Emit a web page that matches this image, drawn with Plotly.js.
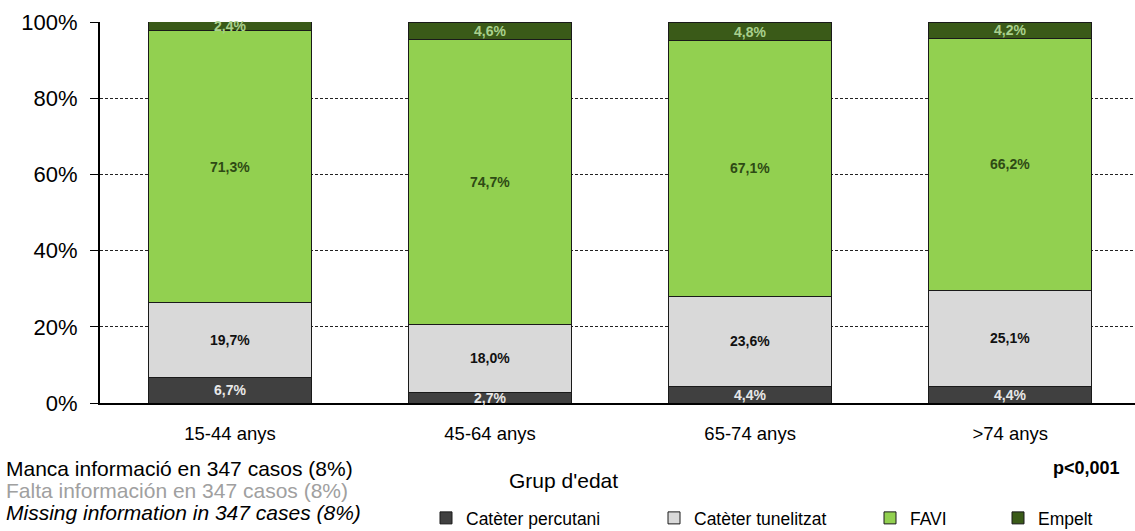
<!DOCTYPE html>
<html>
<head>
<meta charset="utf-8">
<script src="https://cdn.plot.ly/plotly-3.0.1.min.js"></script>
<style>html,body{margin:0;padding:0;background:#fff;}#chart{width:1135px;height:531px;}</style>
</head>
<body>
<div id="chart"></div>
<script>
const categories = ['15-44 anys', '45-64 anys', '65-74 anys', '>74 anys'];
const seriesNames = ['Catèter percutani', 'Catèter tunelitzat', 'FAVI', 'Empelt'];
const percutani = [6.7, 2.7, 4.4, 4.4];
const tunelitzat = [19.7, 18.0, 23.6, 25.1];
const favi = [71.3, 74.7, 67.1, 66.2];
const empelt = [2.4, 4.6, 4.8, 4.2];
const yTicks = [0, 20, 40, 60, 80, 100];
const yTickLabels = ['0%', '20%', '40%', '60%', '80%', '100%'];

const seriesValues = [percutani, tunelitzat, favi, empelt];
const fillColors = ['#404040', '#d9d9d9', '#92d050', '#3a5a18'];
const labelColors = ['#e8e8e8', '#111111', '#2e4a14', '#a9d18e'];
const FONT = 'Liberation Sans, Arial, sans-serif';

// plot area geometry (pixels)
const W = 1135, H = 531;
const M = {l: 100, r: 0, t: 22, b: 128, autoexpand: false};
const PW = W - M.l - M.r, PH = H - M.t - M.b;
const px = x => (x - M.l) / PW;
const py = y => (H - M.b - y) / PH;

const legendX = [466, 694, 910, 1038];
const traces = seriesValues.map((vals, i) => ({
  type: 'bar',
  name: seriesNames[i],
  x: categories,
  y: vals,
  width: 0.627,
  marker: {color: fillColors[i], line: {color: '#1a1a1a', width: 1}},
  hoverinfo: 'skip',
  legend: i === 0 ? 'legend' : 'legend' + (i + 1)
}));

const annotations = [];
categories.forEach((c, j) => {
  let base = 0;
  seriesValues.forEach((vals, i) => {
    const v = vals[j];
    annotations.push({
      x: c, y: base + v / 2, xref: 'x', yref: 'y',
      text: '<b>' + v.toFixed(1).replace('.', ',') + '%</b>',
      showarrow: false,
      font: {family: FONT, size: 14, color: labelColors[i]}
    });
    base += v;
  });
});

annotations.push(
  {xref: 'paper', yref: 'paper', x: px(4), y: py(469), xanchor: 'left', yanchor: 'middle', showarrow: false,
   text: 'Manca informació en 347 casos (8%)', font: {family: FONT, size: 21, color: '#000'}},
  {xref: 'paper', yref: 'paper', x: px(4), y: py(491), xanchor: 'left', yanchor: 'middle', showarrow: false,
   text: 'Falta información en 347 casos (8%)', font: {family: FONT, size: 21, color: '#a0a0a0'}},
  {xref: 'paper', yref: 'paper', x: px(4), y: py(512), xanchor: 'left', yanchor: 'middle', showarrow: false,
   text: '<i>Missing information in 347 cases (8%)</i>', font: {family: FONT, size: 21, color: '#000'}},
  {xref: 'paper', yref: 'paper', x: px(563), y: py(480), xanchor: 'center', yanchor: 'middle', showarrow: false,
   text: "Grup d'edat", font: {family: FONT, size: 21, color: '#000'}},
  {xref: 'paper', yref: 'paper', x: px(1122), y: py(468), xanchor: 'right', yanchor: 'middle', showarrow: false,
   text: '<b>p<0,001</b>', font: {family: FONT, size: 18, color: '#000'}}
);

const layout = {
  width: W, height: H,
  margin: M,
  paper_bgcolor: '#fff', plot_bgcolor: '#fff',
  barmode: 'stack',
  font: {family: FONT, color: '#000'},
  xaxis: {
    range: [-0.5, 3.48],
    showline: true, linecolor: '#000', linewidth: 2,
    ticks: '', showgrid: false, zeroline: false,
    tickfont: {family: FONT, size: 18.5, color: '#000'},
    ticklabelstandoff: 13
  },
  yaxis: {
    range: [0, 100],
    tickvals: yTicks, ticktext: yTickLabels,
    showline: true, linecolor: '#000', linewidth: 2,
    ticks: 'outside', ticklen: 8, tickcolor: '#000', tickwidth: 1,
    showgrid: true, gridcolor: '#222', griddash: '3px,2px', gridwidth: 1,
    zeroline: false,
    tickfont: {family: FONT, size: 22, color: '#000'},
    ticklabelstandoff: 8
  },
  showlegend: true,
  annotations: annotations
};
['legend', 'legend2', 'legend3', 'legend4'].forEach((k, i) => {
  layout[k] = {
    x: px(legendX[i] - 40), y: py(518), xanchor: 'left', yanchor: 'middle',
    orientation: 'h', bgcolor: 'rgba(0,0,0,0)', borderwidth: 0,
    font: {family: FONT, size: 17.5, color: '#000'}, itemwidth: 30
  };
});

Plotly.newPlot('chart', traces, layout, {displayModeBar: false, staticPlot: true});
</script>
</body>
</html>
